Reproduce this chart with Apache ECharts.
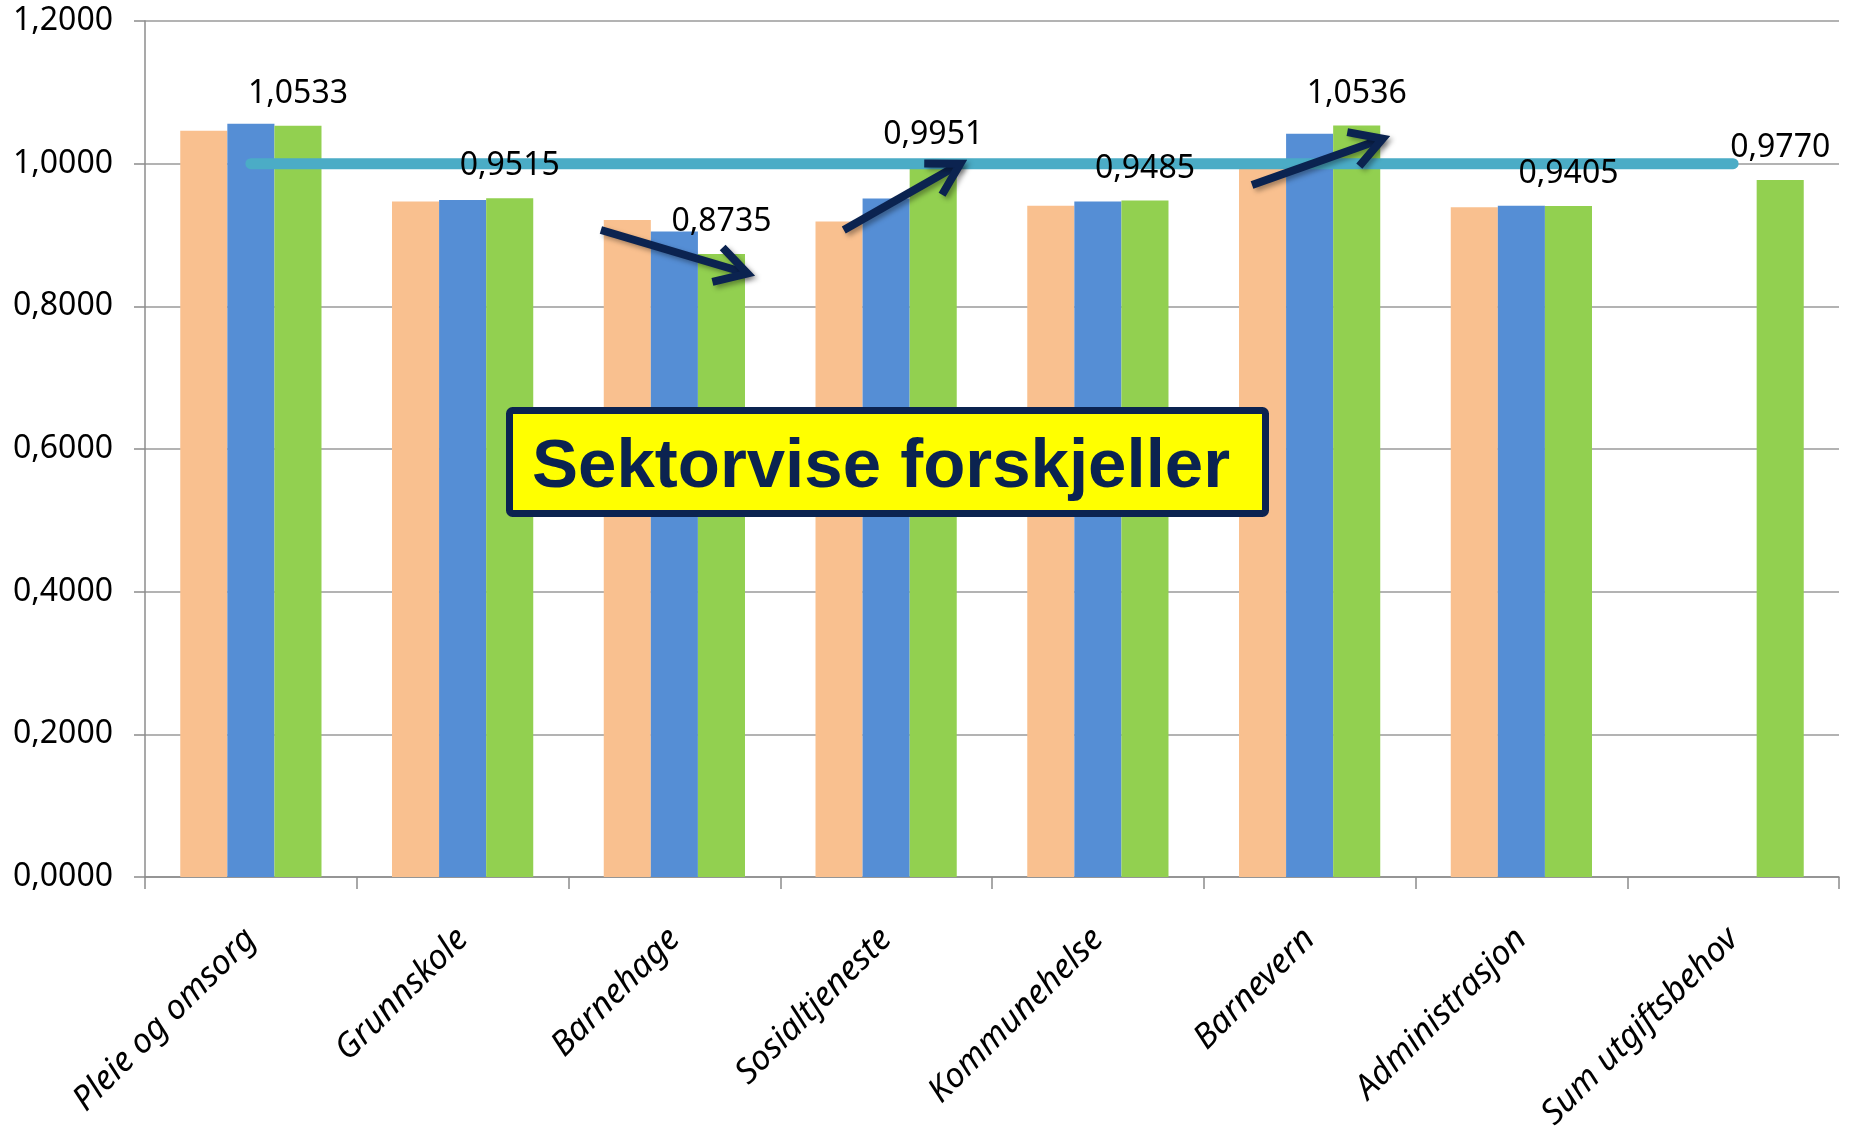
<!DOCTYPE html>
<html><head><meta charset="utf-8">
<script src="https://cdn.jsdelivr.net/npm/echarts@6/dist/echarts.min.js"></script>
<style>html,body{margin:0;padding:0;background:#fff}#c{width:1851px;height:1139px}</style>
</head><body><div id="c"></div>
<script>
// ---- data ----
const categories = ['Pleie og omsorg', 'Grunnskole', 'Barnehage', 'Sosialtjeneste', 'Kommunehelse', 'Barnevern', 'Administrasjon', 'Sum utgiftsbehov'];
const seriesOrange = [1.046, 0.947, 0.921, 0.919, 0.941, 0.993, 0.939, null];
const seriesBlue   = [1.056, 0.949, 0.905, 0.951, 0.947, 1.042, 0.941, null];
const seriesGreen  = [1.0533, 0.9515, 0.8735, 0.9951, 0.9485, 1.0536, 0.9405, 0.9770];
const referenceLine = [1, 1, 1, 1, 1, 1, 1, 1];
const yMin = 0, yMax = 1.2, yInterval = 0.2;
const titleText = 'Sektorvise forskjeller';
// arrows in data space: [category position (fractional), value]
const arrowFrom = [[1.653, 0.907], [2.80, 0.907], [4.728, 0.970]];
const arrowTo   = [[2.345, 0.846], [3.350, 1.000], [5.345, 1.035]];

const fmt = v => v.toFixed(4).replace('.', ',');
const FONT = '"Noto Sans", "DejaVu Sans", sans-serif';
const chart = echarts.init(document.getElementById('c'), null, {renderer: 'canvas'});

chart.setOption({
  animation: false,
  backgroundColor: '#ffffff',
  grid: {left: 145, right: 12, top: 21, bottom: 262, containLabel: false},
  xAxis: {
    type: 'category', data: categories, boundaryGap: true,
    axisLine: {lineStyle: {color: '#8c8c8c', width: 1.5}},
    axisTick: {show: true, length: 12, lineStyle: {color: '#8c8c8c', width: 1.5}},
    axisLabel: {rotate: 45, interval: 0, margin: 57, fontSize: 34, fontStyle: 'italic', fontFamily: FONT, color: '#000'}
  },
  yAxis: {
    type: 'value', min: yMin, max: yMax, interval: yInterval,
    axisLine: {show: true, lineStyle: {color: '#8c8c8c', width: 1.5}},
    axisTick: {show: true, length: 11, lineStyle: {color: '#8c8c8c', width: 1.5}},
    splitLine: {lineStyle: {color: '#9a9a9a', width: 1.5}},
    axisLabel: {margin: 32, fontSize: 32, fontFamily: FONT, color: '#000', formatter: fmt}
  },
  series: [
    {name: 'A', type: 'bar', data: seriesOrange, barGap: '0%', barCategoryGap: '33.3%', itemStyle: {color: '#F9C08F'}},
    {name: 'B', type: 'bar', data: seriesBlue, barGap: '0%', barCategoryGap: '33.3%', itemStyle: {color: '#558ED5'}},
    {name: 'C', type: 'bar', data: seriesGreen, barGap: '0%', barCategoryGap: '33.3%', itemStyle: {color: '#92D050'}},
    {name: 'Ref', type: 'line', data: referenceLine, symbol: 'none', showSymbol: false, silent: true,
      lineStyle: {width: 11, color: '#4BACC6', cap: 'round'}, itemStyle: {color: '#4BACC6'}}
  ]
});

const graphics = [];
// value labels of the green series, placed from the library's own bar layout, drawn above the line
const greenData = chart.getModel().getSeriesByIndex(2).getData();
seriesGreen.forEach((v, i) => {
  const l = greenData.getItemLayout(i);
  if (!l || v == null) return;
  const top = Math.min(l.y, l.y + l.height);
  graphics.push({type: 'text', z: 50, x: l.x + l.width / 2, y: top - 16,
    style: {text: fmt(v), fill: '#000', font: '32px ' + FONT,
      textAlign: 'center', textVerticalAlign: 'bottom', align: 'center', verticalAlign: 'bottom'}});
});

function px(pos) {
  const i = Math.min(Math.floor(pos[0]), categories.length - 2);
  const f = pos[0] - i;
  const a = chart.convertToPixel({xAxisIndex: 0, yAxisIndex: 0}, [i, pos[1]]);
  const b = chart.convertToPixel({xAxisIndex: 0, yAxisIndex: 0}, [i + 1, pos[1]]);
  return [a[0] + (b[0] - a[0]) * f, a[1]];
}
const ARROW = '#0B2350';
const arrowStyle = {stroke: ARROW, lineWidth: 8, fill: null, lineJoin: 'miter', lineCap: 'butt',
  shadowBlur: 5, shadowOffsetX: 3, shadowOffsetY: 3, shadowColor: 'rgba(0,0,0,0.35)'};
arrowFrom.forEach((fr, k) => {
  const p0 = px(fr), p1 = px(arrowTo[k]);
  const ang = Math.atan2(p1[1] - p0[1], p1[0] - p0[0]);
  const L = 36, spread = 30 * Math.PI / 180;
  const a1 = [p1[0] - L * Math.cos(ang - spread), p1[1] - L * Math.sin(ang - spread)];
  const a2 = [p1[0] - L * Math.cos(ang + spread), p1[1] - L * Math.sin(ang + spread)];
  graphics.push({type: 'polyline', z: 100, shape: {points: [p0, p1]}, style: arrowStyle});
  graphics.push({type: 'polyline', z: 100, shape: {points: [a1, p1, a2]}, style: arrowStyle});
});
graphics.push({type: 'rect', z: 110, shape: {x: 509.5, y: 410.5, width: 756, height: 103, r: 3},
  style: {fill: '#FFFF00', stroke: ARROW, lineWidth: 7}});
graphics.push({type: 'text', z: 111, x: 532, y: 468,
  style: {text: titleText, fill: ARROW, font: 'bold 69px "Liberation Sans", Arial, sans-serif',
    textAlign: 'left', textVerticalAlign: 'middle', align: 'left', verticalAlign: 'middle'}});
chart.setOption({graphic: graphics});
</script>
</body></html>
